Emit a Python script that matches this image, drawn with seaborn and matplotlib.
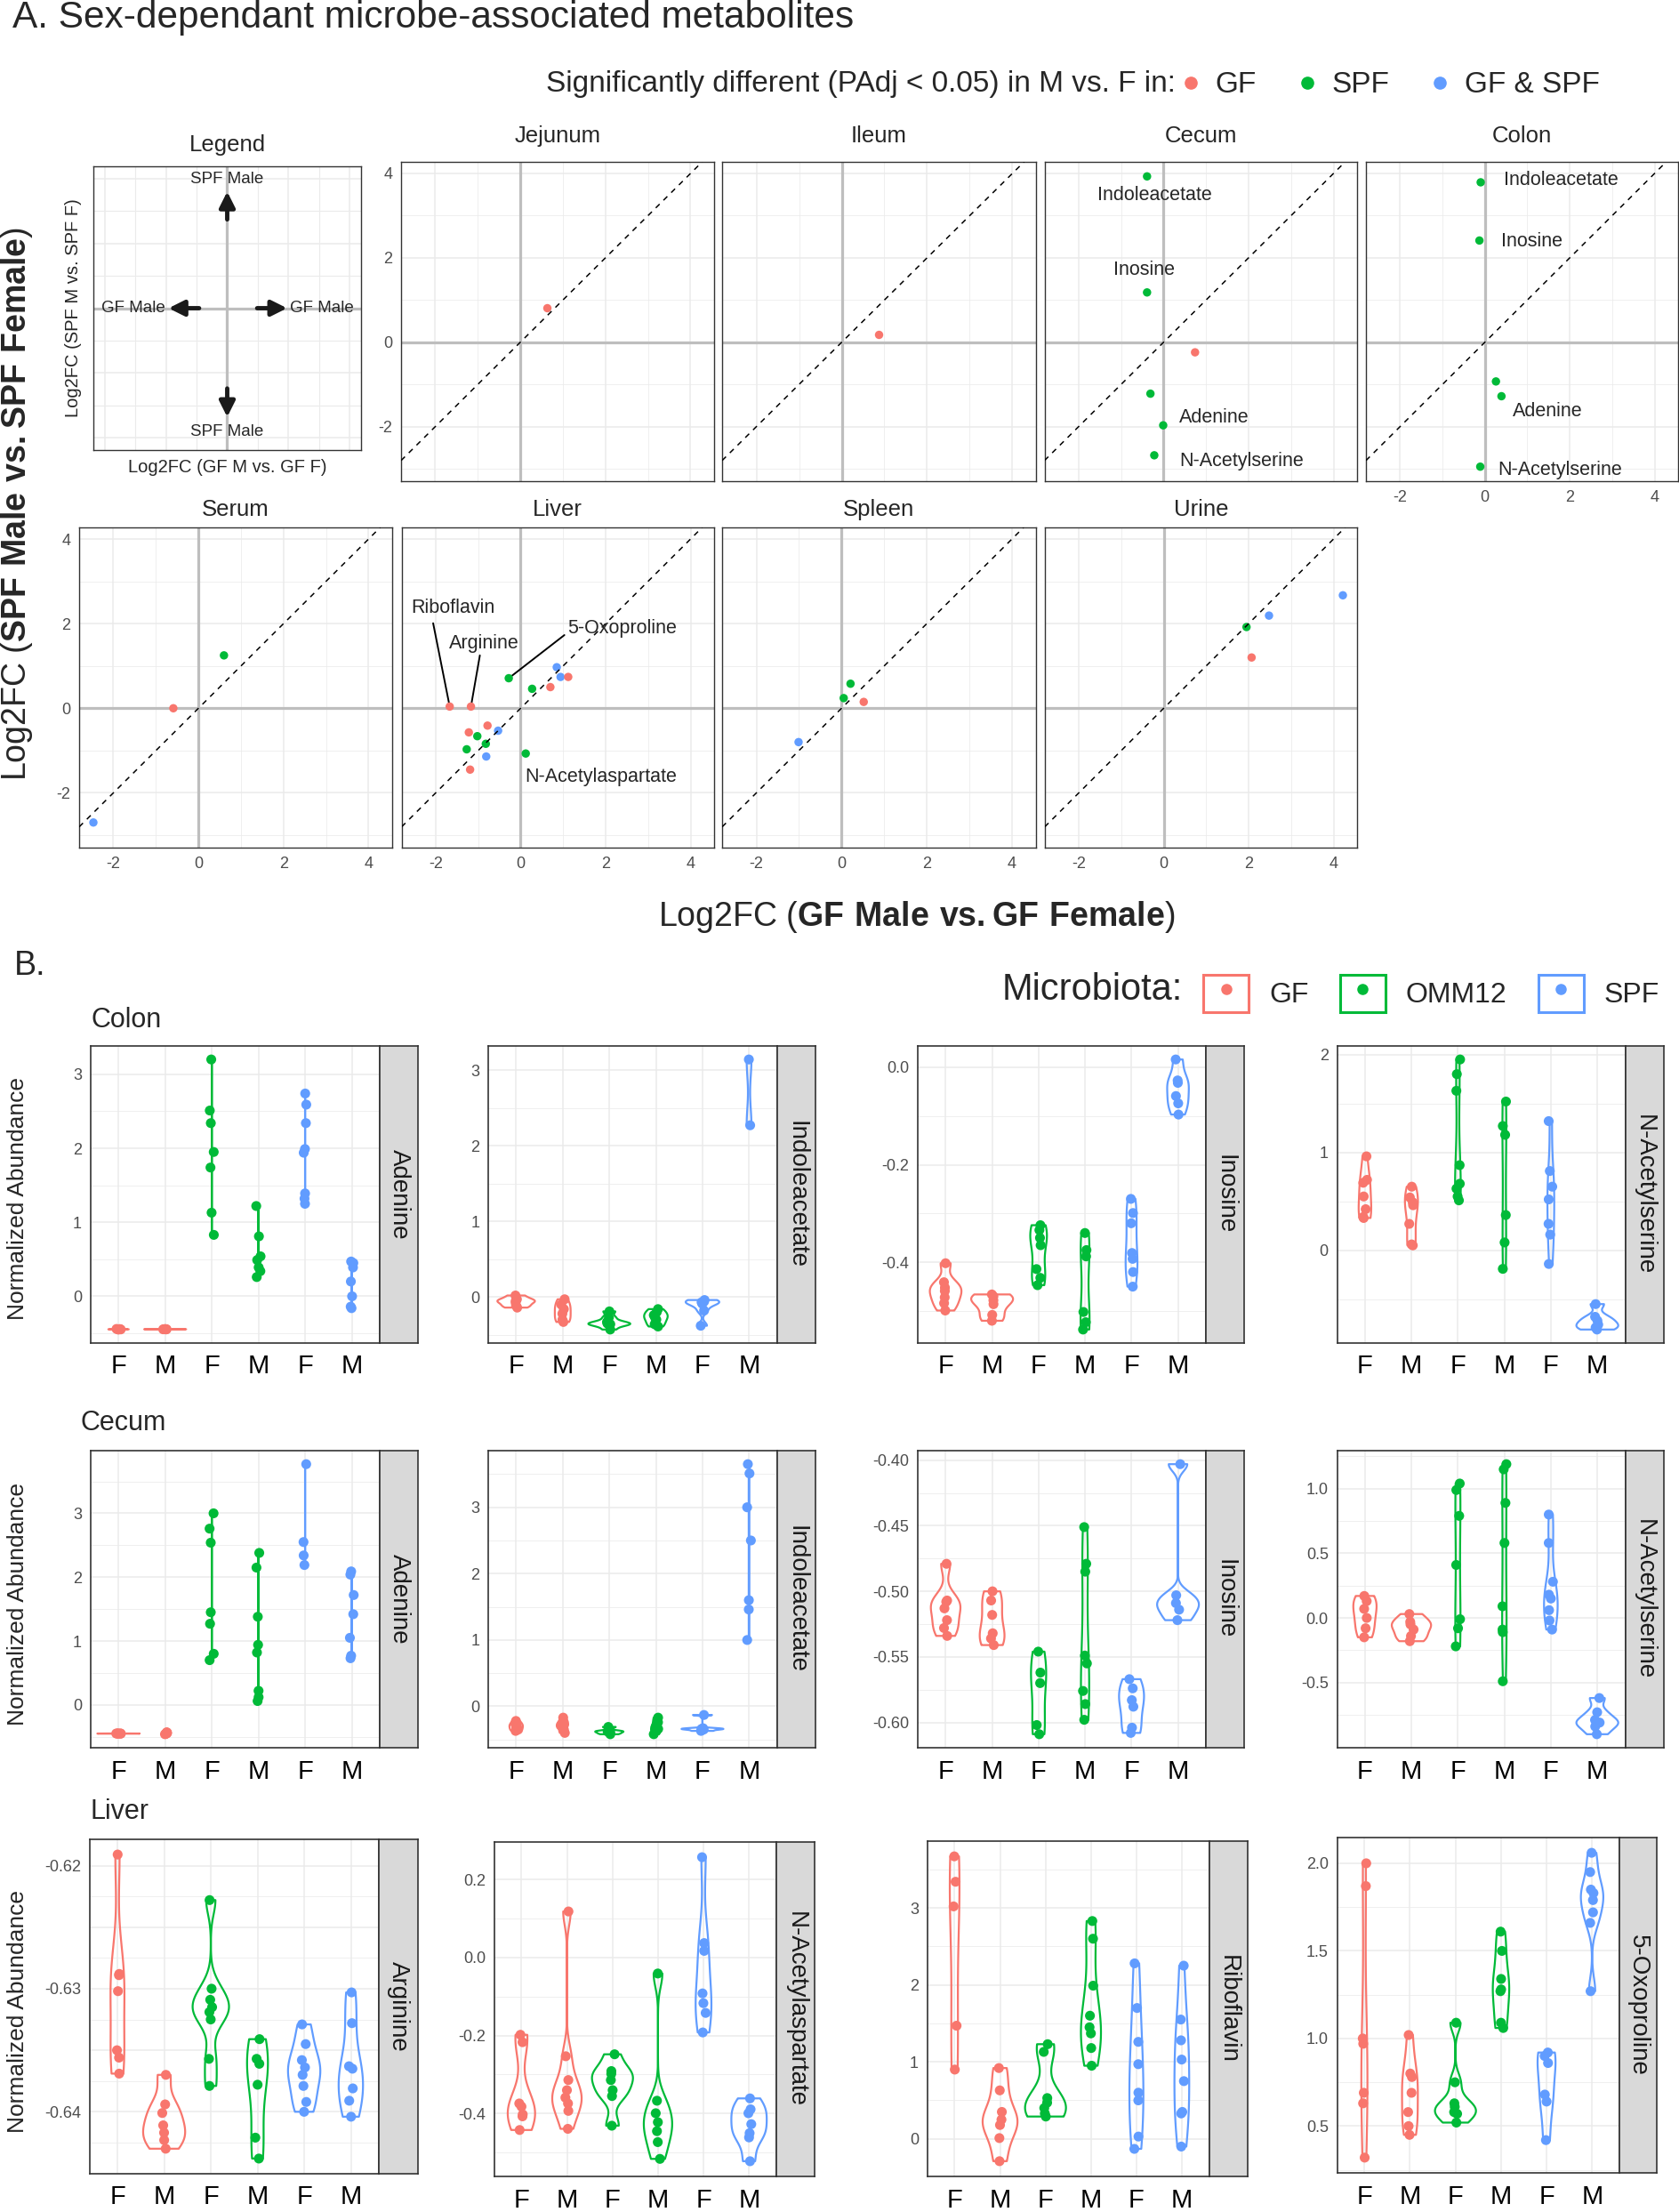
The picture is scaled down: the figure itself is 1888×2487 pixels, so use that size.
#!/usr/bin/env python
import numpy as np
import pandas as pd
import matplotlib
matplotlib.use("Agg")
import matplotlib.pyplot as plt
from matplotlib.lines import Line2D
from matplotlib.patches import Patch
from matplotlib.legend_handler import HandlerTuple
import seaborn as sns

W, H = 1888, 2487

# ---------------- Panel A data: Log2FC GF (x) vs SPF (y) ----------------
SIG_ORDER = ["GF", "SPF", "GF & SPF"]
SIG_COLORS = ["#F8766D", "#00BA38", "#619CFF"]

JEJUNUM_X = [0.63]
JEJUNUM_Y = [0.81]
JEJUNUM_SIG = ["GF"]

ILEUM_X = [0.87]
ILEUM_Y = [0.18]
ILEUM_SIG = ["GF"]

CECUM_X = [-0.39, -0.39, 0.74, -0.31, -0.01, -0.22]
CECUM_Y = [3.93, 1.18, -0.24, -1.22, -1.97, -2.68]
CECUM_SIG = ["SPF", "SPF", "GF", "SPF", "SPF", "SPF"]
CECUM_LABELS = ["Indoleacetate", "Inosine", "Adenine", "N-Acetylserine"]
CECUM_LABEL_XY = [(-0.22, 3.49), (-0.47, 1.71), (1.18, -1.78), (1.83, -2.81)]

COLON_X = [-0.10, -0.13, 0.26, 0.39, -0.11]
COLON_Y = [3.79, 2.41, -0.93, -1.28, -2.95]
COLON_SIG = ["SPF", "SPF", "SPF", "SPF", "SPF"]
COLON_LABELS = ["Indoleacetate", "Inosine", "Adenine", "N-Acetylserine"]
COLON_LABEL_XY = [(1.79, 3.84), (1.10, 2.39), (1.48, -1.63), (1.77, -3.02)]

SERUM_X = [0.60, -0.59, -2.47]
SERUM_Y = [1.25, 0.0, -2.70]
SERUM_SIG = ["SPF", "GF", "GF & SPF"]

LIVER_X = [-1.67, -1.17, -0.28, 0.27, 0.70, 0.85, 0.94, 1.12, -0.78, -0.53,
           -1.22, -1.02, -0.82, -1.27, -0.81, 0.12, -1.19]
LIVER_Y = [0.04, 0.04, 0.71, 0.46, 0.50, 0.97, 0.74, 0.74, -0.41, -0.53,
           -0.57, -0.66, -0.84, -0.97, -1.14, -1.07, -1.45]
LIVER_SIG = ["GF", "GF", "SPF", "SPF", "GF", "GF & SPF", "GF & SPF", "GF", "GF",
             "GF & SPF", "GF", "SPF", "SPF", "SPF", "GF & SPF", "SPF", "GF"]
LIVER_LABELS = ["Riboflavin", "Arginine", "5-Oxoproline", "N-Acetylaspartate"]
LIVER_LABEL_XY = [(-1.60, 2.37), (-0.86, 1.53), (2.39, 1.88), (1.89, -1.63)]
# label segment start -> index of the labelled point
LIVER_SEGMENTS = [((-2.06, 2.01), 0), ((-0.96, 1.25), 1), ((1.03, 1.73), 2)]

SPLEEN_X = [0.21, 0.05, 0.52, -1.01]
SPLEEN_Y = [0.58, 0.24, 0.15, -0.80]
SPLEEN_SIG = ["SPF", "SPF", "GF", "GF & SPF"]

URINE_X = [1.95, 2.48, 2.07, 4.22]
URINE_Y = [1.92, 2.19, 1.20, 2.67]
URINE_SIG = ["SPF", "GF & SPF", "GF", "GF & SPF"]

# ---------------- Panel B data: normalized abundance ----------------
MICROBIOTA = ["GF", "OMM12", "SPF"]
MICRO_COLORS = ["#F8766D", "#00BA38", "#619CFF"]
GROUPS = ["GF F", "GF M", "OMM12 F", "OMM12 M", "SPF F", "SPF M"]
GROUP_COLORS = ["#F8766D", "#F8766D", "#00BA38", "#00BA38", "#619CFF", "#619CFF"]
SEX_LABELS = ["F", "M", "F", "M", "F", "M"]

COLON_ADENINE = [
    [-0.441, -0.445, -0.449, -0.443, -0.447, -0.446],
    [-0.444, -0.446, -0.445, -0.443, -0.447, -0.445],
    [3.20, 2.51, 2.34, 1.95, 1.74, 1.13, 0.83],
    [1.22, 0.81, 0.54, 0.49, 0.39, 0.34, 0.26],
    [2.74, 2.59, 2.34, 1.99, 1.94, 1.39, 1.32, 1.25],
    [0.47, 0.45, 0.39, 0.20, 0.00, -0.14, -0.16],
]
COLON_INDOLEACETATE = [
    [0.02, -0.03, -0.07, -0.11, -0.14, -0.05],
    [-0.03, -0.10, -0.16, -0.22, -0.30, -0.33],
    [-0.19, -0.27, -0.33, -0.35, -0.36, -0.37, -0.43],
    [-0.16, -0.20, -0.24, -0.27, -0.30, -0.36, -0.39],
    [-0.04, -0.06, -0.09, -0.18, -0.38, -0.07],
    [3.14, 2.27],
]
COLON_INOSINE = [
    [-0.402, -0.441, -0.452, -0.459, -0.472, -0.484, -0.499],
    [-0.466, -0.478, -0.486, -0.508, -0.520, -0.470],
    [-0.324, -0.334, -0.350, -0.365, -0.414, -0.432, -0.447],
    [-0.340, -0.375, -0.388, -0.502, -0.523, -0.538],
    [-0.270, -0.299, -0.320, -0.381, -0.393, -0.420, -0.450],
    [0.016, -0.027, -0.032, -0.059, -0.074, -0.097],
]
COLON_NACETYLSERINE = [
    [0.96, 0.72, 0.69, 0.55, 0.42, 0.34, 0.33],
    [0.65, 0.54, 0.49, 0.46, 0.27, 0.06, 0.05],
    [1.95, 1.80, 1.63, 0.87, 0.68, 0.63, 0.55, 0.51],
    [1.52, 1.27, 1.18, 0.36, 0.08, -0.19],
    [1.32, 0.81, 0.65, 0.52, 0.27, 0.16, -0.14],
    [-0.55, -0.68, -0.72, -0.76, -0.81, -0.79],
]
CECUM_ADENINE = [
    [-0.448, -0.450, -0.449, -0.451, -0.450, -0.449],
    [-0.430, -0.440, -0.460, -0.450, -0.435, -0.455],
    [3.00, 2.76, 2.54, 1.45, 1.27, 0.80, 0.70],
    [2.38, 2.15, 1.38, 0.94, 0.82, 0.22, 0.12, 0.06],
    [3.77, 2.55, 2.34, 2.19],
    [2.09, 2.04, 1.72, 1.42, 1.05, 0.77, 0.73],
]
CECUM_INDOLEACETATE = [
    [-0.22, -0.26, -0.31, -0.35, -0.37, -0.29],
    [-0.17, -0.24, -0.29, -0.35, -0.40, -0.27],
    [-0.31, -0.37, -0.42, -0.40, -0.38],
    [-0.17, -0.24, -0.31, -0.37, -0.42, -0.34],
    [-0.13, -0.33, -0.35, -0.37, -0.34],
    [3.65, 3.51, 3.00, 2.50, 1.60, 1.46, 1.00],
]
CECUM_INOSINE = [
    [-0.479, -0.507, -0.508, -0.513, -0.522, -0.528, -0.534],
    [-0.500, -0.507, -0.518, -0.532, -0.536, -0.541],
    [-0.546, -0.562, -0.570, -0.602, -0.609],
    [-0.451, -0.479, -0.485, -0.549, -0.555, -0.576, -0.586, -0.598],
    [-0.567, -0.574, -0.583, -0.588, -0.604, -0.608],
    [-0.403, -0.503, -0.509, -0.514, -0.522],
]
CECUM_NACETYLSERINE = [
    [0.17, 0.13, 0.07, 0.00, -0.08, -0.15],
    [0.03, -0.03, -0.09, -0.14, -0.18, -0.05],
    [1.04, 0.99, 0.79, 0.41, -0.01, -0.08, -0.22],
    [1.19, 1.15, 0.89, 0.58, 0.09, -0.09, -0.11, -0.49],
    [0.80, 0.58, 0.28, 0.18, 0.15, 0.06, -0.02, -0.09],
    [-0.62, -0.73, -0.79, -0.81, -0.84, -0.90],
]
LIVER_ARGININE = [
    [-0.6191, -0.6288, -0.6289, -0.6302, -0.6350, -0.6356, -0.6369],
    [-0.6370, -0.6394, -0.6401, -0.6411, -0.6417, -0.6423, -0.6430],
    [-0.6228, -0.6300, -0.6309, -0.6315, -0.6319, -0.6325, -0.6357, -0.6379],
    [-0.6341, -0.6357, -0.6361, -0.6378, -0.6421, -0.6438],
    [-0.6329, -0.6345, -0.6358, -0.6364, -0.6370, -0.6379, -0.6392, -0.6400],
    [-0.6303, -0.6328, -0.6363, -0.6365, -0.6381, -0.6391, -0.6404],
]
LIVER_NACETYLASPARTATE = [
    [-0.198, -0.217, -0.374, -0.382, -0.402, -0.407, -0.442],
    [0.118, -0.253, -0.314, -0.340, -0.359, -0.374, -0.393, -0.439],
    [-0.248, -0.291, -0.298, -0.314, -0.340, -0.355, -0.431],
    [-0.041, -0.367, -0.399, -0.422, -0.445, -0.473, -0.516],
    [0.257, 0.037, 0.017, -0.092, -0.117, -0.142, -0.192],
    [-0.361, -0.389, -0.399, -0.427, -0.450, -0.461, -0.522],
]
LIVER_RIBOFLAVIN = [
    [3.67, 3.34, 3.02, 1.47, 0.90],
    [0.92, 0.63, 0.35, 0.25, 0.18, 0.01, -0.29],
    [1.23, 1.13, 0.53, 0.47, 0.40, 0.33, 0.29],
    [2.83, 2.60, 1.99, 1.60, 1.45, 1.37, 1.18, 0.95],
    [2.28, 1.70, 1.26, 0.97, 0.60, 0.50, 0.03, -0.13],
    [2.25, 1.55, 1.28, 1.03, 0.75, 0.35, 0.33, -0.10],
]
LIVER_OXOPROLINE = [
    [2.00, 1.87, 1.00, 0.97, 0.69, 0.63, 0.32],
    [1.02, 0.80, 0.78, 0.69, 0.58, 0.50, 0.45],
    [1.09, 0.75, 0.63, 0.61, 0.58, 0.57, 0.52],
    [1.61, 1.50, 1.34, 1.28, 1.27, 1.09, 1.06],
    [0.92, 0.86, 0.68, 0.64, 0.42, 0.90],
    [2.06, 1.95, 1.85, 1.83, 1.79, 1.72, 1.66, 1.27],
]


def px(x0, y0, x1, y1):
    return [x0 / W, 1 - y1 / H, (x1 - x0) / W, (y1 - y0) / H]


def nrd0(kde):
    # R's default bandwidth (bw.nrd0), as used by ggplot's geom_violin
    x = kde.dataset.ravel()
    sd = np.std(x, ddof=1)
    q75, q25 = np.percentile(x, [75, 25])
    lo = min(sd, (q75 - q25) / 1.34)
    if lo <= 0:
        lo = sd if sd > 0 else 1.0
    return 0.9 * lo * len(x) ** -0.2 / sd


def style_spines(ax, color="#333333", lw=1.1):
    for s in ax.spines.values():
        s.set_visible(True)
        s.set_color(color)
        s.set_linewidth(lw)


def scatter_panel(fig, box, name, xs, ys, sig, xlim, ylim, show_x, show_y, title_pad):
    ax = fig.add_axes(px(*box))
    df = pd.DataFrame({"x": xs, "y": ys, "sig": sig})
    ax.set_xlim(xlim)
    ax.set_ylim(ylim)
    ax.set_xticks([-2, 0, 2, 4])
    ax.set_xticks([-1, 1, 3], minor=True)
    ax.set_yticks([-2, 0, 2, 4])
    ax.set_yticks([-3, -1, 1, 3], minor=True)
    ax.grid(which="major", color="#EBEBEB", lw=1.1)
    ax.grid(which="minor", color="#EBEBEB", lw=0.55)
    ax.set_axisbelow(True)
    ax.axhline(0, color="#BEBEBE", lw=2.3, zorder=1)
    ax.axvline(0, color="#BEBEBE", lw=2.3, zorder=1)
    sns.scatterplot(data=df, x="x", y="y", hue="sig", hue_order=SIG_ORDER,
                    palette=SIG_COLORS, s=46, linewidth=0, legend=False,
                    ax=ax, zorder=3)
    ax.axline((0, 0), slope=1, color="black", lw=1.1, ls=(0, (4, 4)), zorder=4)
    ax.set_xlabel("")
    ax.set_ylabel("")
    ax.tick_params(which="minor", length=0)
    ax.tick_params(axis="x", which="major", length=4 if show_x else 0,
                   labelbottom=show_x, labelsize=13, labelcolor="#4D4D4D",
                   color="#333333", pad=3)
    ax.tick_params(axis="y", which="major", length=4 if show_y else 0,
                   labelleft=show_y, labelsize=13, labelcolor="#4D4D4D",
                   color="#333333", pad=3)
    style_spines(ax, lw=1.0)
    ax.set_title(name, fontsize=18.5, pad=title_pad)
    return ax


def violin_panel(fig, box, strip_w, groups, metabolite, ticks, labels):
    x0, y0, x1, y1 = box
    ax = fig.add_axes(px(x0, y0, x1, y1))
    sax = fig.add_axes(px(x1, y0, x1 + strip_w, y1))
    df = pd.DataFrame({
        "group": [g for g, vals in zip(GROUPS, groups) for _ in vals],
        "value": [v for vals in groups for v in vals],
    })
    sns.violinplot(data=df, x="group", y="value", hue="group", order=GROUPS,
                   hue_order=GROUPS, palette=GROUP_COLORS, fill=False, inner=None,
                   cut=0, width=0.9, density_norm="area", common_norm=True,
                   bw_method=nrd0, bw_adjust=1, linewidth=1.6,
                   dodge=False, legend=False, ax=ax)
    sns.stripplot(data=df, x="group", y="value", hue="group", order=GROUPS,
                  hue_order=GROUPS, palette=GROUP_COLORS, jitter=0.05, size=8,
                  linewidth=0, dodge=False, legend=False, ax=ax, zorder=3)
    lo, hi = df["value"].min(), df["value"].max()
    pad = 0.05 * (hi - lo)
    ax.set_ylim(lo - pad, hi + pad)
    ax.set_xlim(-0.6, 5.6)
    ax.set_yticks(ticks)
    ax.set_yticklabels(labels)
    step = ticks[1] - ticks[0]
    minors = [t for t in np.arange(ticks[0] - step / 2, ticks[-1] + step, step)
              if lo - pad <= t <= hi + pad]
    ax.set_yticks(minors, minor=True)
    ax.set_xticks(range(6))
    ax.set_xticklabels(SEX_LABELS)
    ax.grid(axis="y", which="major", color="#EBEBEB", lw=1.1)
    ax.grid(axis="y", which="minor", color="#EBEBEB", lw=0.55)
    ax.grid(axis="x", which="major", color="#EBEBEB", lw=1.1)
    ax.set_axisbelow(True)
    ax.set_xlabel("")
    ax.set_ylabel("")
    ax.tick_params(which="minor", length=0)
    ax.tick_params(axis="x", labelsize=21, labelcolor="black", length=5,
                   color="#333333", pad=4)
    ax.tick_params(axis="y", labelsize=13, labelcolor="#4D4D4D", length=4,
                   color="#333333", pad=3)
    style_spines(ax, lw=1.2)
    sax.set_facecolor("#D9D9D9")
    sax.set_xticks([])
    sax.set_yticks([])
    style_spines(sax, lw=1.2)
    sax.text(0.5, 0.5, metabolite, rotation=-90, ha="center", va="center",
             fontsize=20, color="#1A1A1A", transform=sax.transAxes)
    return ax


def main():
    sns.set_style("white")
    plt.rcParams["font.family"] = ["Liberation Sans", "DejaVu Sans"]
    plt.rcParams["axes.unicode_minus"] = False
    plt.rcParams["mathtext.fontset"] = "custom"
    plt.rcParams["mathtext.rm"] = "Liberation Sans"
    plt.rcParams["mathtext.bf"] = "Liberation Sans:bold"
    np.random.seed(7)

    fig = plt.figure(figsize=(W / 100, H / 100), dpi=100)
    fig.patch.set_facecolor("white")

    # ---------------- Panel A ----------------
    fig.text(14 / W, 1 - 20 / H, "A. Sex-dependant microbe-associated metabolites",
             fontsize=30.5, va="center", ha="left")
    fig.text(614 / W, 1 - 95 / H,
             "Significantly different (PAdj < 0.05) in M vs. F in:",
             fontsize=24, va="center", ha="left")
    sig_handles = [Line2D([], [], marker="o", ls="", color=c, ms=9.5) for c in SIG_COLORS]
    fig.legend(sig_handles, SIG_ORDER, loc="center left",
               bbox_to_anchor=(1322 / W, 1 - 96 / H), ncol=3, frameon=False,
               fontsize=24, handlelength=1.0, handletextpad=0.34,
               columnspacing=1.2, borderpad=0, borderaxespad=0)

    all_x = JEJUNUM_X + ILEUM_X + CECUM_X + COLON_X + SERUM_X + LIVER_X + SPLEEN_X + URINE_X
    all_y = JEJUNUM_Y + ILEUM_Y + CECUM_Y + COLON_Y + SERUM_Y + LIVER_Y + SPLEEN_Y + URINE_Y
    rx = max(all_x) - min(all_x)
    ry = max(all_y) - min(all_y)
    xlim = (min(all_x) - 0.05 * rx, max(all_x) + 0.05 * rx)
    ylim = (min(all_y) - 0.05 * ry, max(all_y) + 0.05 * ry)

    scatter_panel(fig, (451, 182, 803, 541), "Jejunum", JEJUNUM_X, JEJUNUM_Y,
                  JEJUNUM_SIG, xlim, ylim, False, True, 16)
    scatter_panel(fig, (812, 182, 1165, 541), "Ileum", ILEUM_X, ILEUM_Y,
                  ILEUM_SIG, xlim, ylim, False, False, 16)
    ax_cecum = scatter_panel(fig, (1174.5, 182, 1526, 541), "Cecum", CECUM_X, CECUM_Y,
                             CECUM_SIG, xlim, ylim, False, False, 16)
    ax_colon = scatter_panel(fig, (1536, 182, 1887, 541), "Colon", COLON_X, COLON_Y,
                             COLON_SIG, xlim, ylim, True, False, 16)
    scatter_panel(fig, (89, 593, 441, 953), "Serum", SERUM_X, SERUM_Y,
                  SERUM_SIG, xlim, ylim, True, True, 9.5)
    ax_liver = scatter_panel(fig, (451.5, 593, 803, 953), "Liver", LIVER_X, LIVER_Y,
                             LIVER_SIG, xlim, ylim, True, False, 9.5)
    scatter_panel(fig, (812, 593, 1164.5, 953), "Spleen", SPLEEN_X, SPLEEN_Y,
                  SPLEEN_SIG, xlim, ylim, True, False, 9.5)
    scatter_panel(fig, (1174.7, 593, 1526, 953), "Urine", URINE_X, URINE_Y,
                  URINE_SIG, xlim, ylim, True, False, 9.5)

    for ax, labels, xy in [(ax_cecum, CECUM_LABELS, CECUM_LABEL_XY),
                           (ax_colon, COLON_LABELS, COLON_LABEL_XY),
                           (ax_liver, LIVER_LABELS, LIVER_LABEL_XY)]:
        for t, (lx, ly) in zip(labels, xy):
            ax.text(lx, ly, t, ha="center", va="center", fontsize=15.5, zorder=5)
    for (sx, sy), i in LIVER_SEGMENTS:
        ax_liver.plot([sx, LIVER_X[i]], [sy, LIVER_Y[i]], color="black",
                      lw=1.4, zorder=2)

    # schematic legend panel
    lax = fig.add_axes(px(105, 187, 406, 506))
    lax.set_xlim(-2.19, 2.19)
    lax.set_ylim(-2.19, 2.19)
    lax.set_xticks([-2, -1, 0, 1, 2])
    lax.set_xticks([-1.5, -0.5, 0.5, 1.5], minor=True)
    lax.set_yticks([-2, -1, 0, 1, 2])
    lax.set_yticks([-1.5, -0.5, 0.5, 1.5], minor=True)
    lax.grid(which="major", color="#EBEBEB", lw=1.1)
    lax.grid(which="minor", color="#EBEBEB", lw=0.8)
    lax.set_axisbelow(True)
    lax.tick_params(which="both", length=0, labelbottom=False, labelleft=False)
    lax.axhline(0, color="#BEBEBE", lw=2.3, zorder=1)
    lax.axvline(0, color="#BEBEBE", lw=2.3, zorder=1)
    for (tx, ty), (hx, hy) in [((0, 1.37), (0, 1.80)), ((0, -1.24), (0, -1.68)),
                               ((-0.46, 0), (-0.96, 0)), ((0.49, 0), (0.98, 0))]:
        lax.annotate("", xy=(hx, hy), xytext=(tx, ty),
                     arrowprops=dict(arrowstyle="-|>", color="#1A1A1A", lw=3.5,
                                     mutation_scale=26, shrinkA=0, shrinkB=0))
    lax.text(0, 1.99, "SPF Male", ha="center", va="center", fontsize=13.5)
    lax.text(0, -1.91, "SPF Male", ha="center", va="center", fontsize=13.5)
    lax.text(-1.54, 0.0, "GF Male", ha="center", va="center", fontsize=13.5)
    lax.text(1.55, 0.0, "GF Male", ha="center", va="center", fontsize=13.5)
    lax.set_title("Legend", fontsize=18.5, pad=12)
    lax.set_xlabel("Log2FC (GF M vs. GF F)", fontsize=14.5, labelpad=7)
    lax.set_ylabel("Log2FC (SPF M vs. SPF F)", fontsize=14.5, labelpad=9)
    style_spines(lax, lw=1.0)

    fig.text(19 / W, 1 - 567 / H,
             r"Log2FC ($\mathbf{SPF\ Male\ vs.SPF\ Female}$)",
             rotation=90, ha="center", va="center", fontsize=27)
    fig.text(1031 / W, 1 - 1031 / H,
             r"Log2FC ($\mathbf{GF\ Male\ vs.GF\ Female}$)",
             ha="center", va="center", fontsize=27)

    # ---------------- Panel B ----------------
    fig.text(16 / W, 1 - 1086 / H, "B.", fontsize=27, va="center", ha="left")
    fig.text(1127 / W, 1 - 1113 / H, "Microbiota:", fontsize=30, va="center", ha="left")
    micro_handles = [(Patch(facecolor="white", edgecolor=c, lw=2.2),
                      Line2D([], [], marker="o", ls="", color=c, ms=8))
                     for c in MICRO_COLORS]
    fig.legend(micro_handles, MICROBIOTA, handler_map={tuple: HandlerTuple(ndivide=1, pad=0)},
               loc="center left", bbox_to_anchor=(1353 / W, 1 - 1117 / H), ncol=3,
               frameon=False, fontsize=23, handlelength=1.6, handleheight=1.6,
               handletextpad=0.72, columnspacing=1.1, borderpad=0, borderaxespad=0)

    for label, x, y in [("Colon", 103, 1147), ("Cecum", 90, 1600), ("Liver", 102, 2037)]:
        fig.text(x / W, 1 - y / H, label, fontsize=22, va="center", ha="left")
    for y in [1348, 1803, 2262]:
        fig.text(20 / W, 1 - y / H, "Normalized Abundance", rotation=90,
                 ha="center", va="center", fontsize=19)

    int_ticks = [0, 1, 2, 3]
    int_labels = ["0", "1", "2", "3"]
    panels = [
        ((101.8, 1176, 427, 1510), 43, COLON_ADENINE, "Adenine", int_ticks, int_labels),
        ((549, 1176, 873.7, 1510), 43, COLON_INDOLEACETATE, "Indoleacetate", int_ticks, int_labels),
        ((1032, 1176, 1356, 1510), 43, COLON_INOSINE, "Inosine",
         [-0.4, -0.2, 0.0], ["-0.4", "-0.2", "0.0"]),
        ((1503.5, 1176, 1827.5, 1510), 43, COLON_NACETYLSERINE, "N-Acetylserine",
         [0, 1, 2], ["0", "1", "2"]),
        ((101.8, 1631, 427, 1965), 43, CECUM_ADENINE, "Adenine", int_ticks, int_labels),
        ((549, 1631, 873.7, 1965), 43, CECUM_INDOLEACETATE, "Indoleacetate", int_ticks, int_labels),
        ((1032, 1631, 1356, 1965), 43, CECUM_INOSINE, "Inosine",
         [-0.60, -0.55, -0.50, -0.45, -0.40], ["-0.60", "-0.55", "-0.50", "-0.45", "-0.40"]),
        ((1503.5, 1631, 1827.5, 1965), 43, CECUM_NACETYLSERINE, "N-Acetylserine",
         [-0.5, 0.0, 0.5, 1.0], ["-0.5", "0.0", "0.5", "1.0"]),
        ((100.6, 2068, 426, 2444), 43.5, LIVER_ARGININE, "Arginine",
         [-0.645, -0.640, -0.635, -0.630, -0.625, -0.620],
         ["", "-0.64", "", "-0.63", "", "-0.62"]),
        ((555.6, 2071, 873, 2447), 43, LIVER_NACETYLASPARTATE, "N-Acetylaspartate",
         [-0.4, -0.2, 0.0, 0.2], ["-0.4", "-0.2", "0.0", "0.2"]),
        ((1042.8, 2070, 1359.6, 2447), 43, LIVER_RIBOFLAVIN, "Riboflavin", int_ticks, int_labels),
        ((1503.5, 2066, 1821, 2443), 42, LIVER_OXOPROLINE, "5-Oxoproline",
         [0.5, 1.0, 1.5, 2.0], ["0.5", "1.0", "1.5", "2.0"]),
    ]
    for box, sw, groups, name, ticks, labels in panels:
        violin_panel(fig, box, sw, groups, name, ticks, labels)

    fig.savefig("out.png", dpi=100)


if __name__ == '__main__':
    main()
